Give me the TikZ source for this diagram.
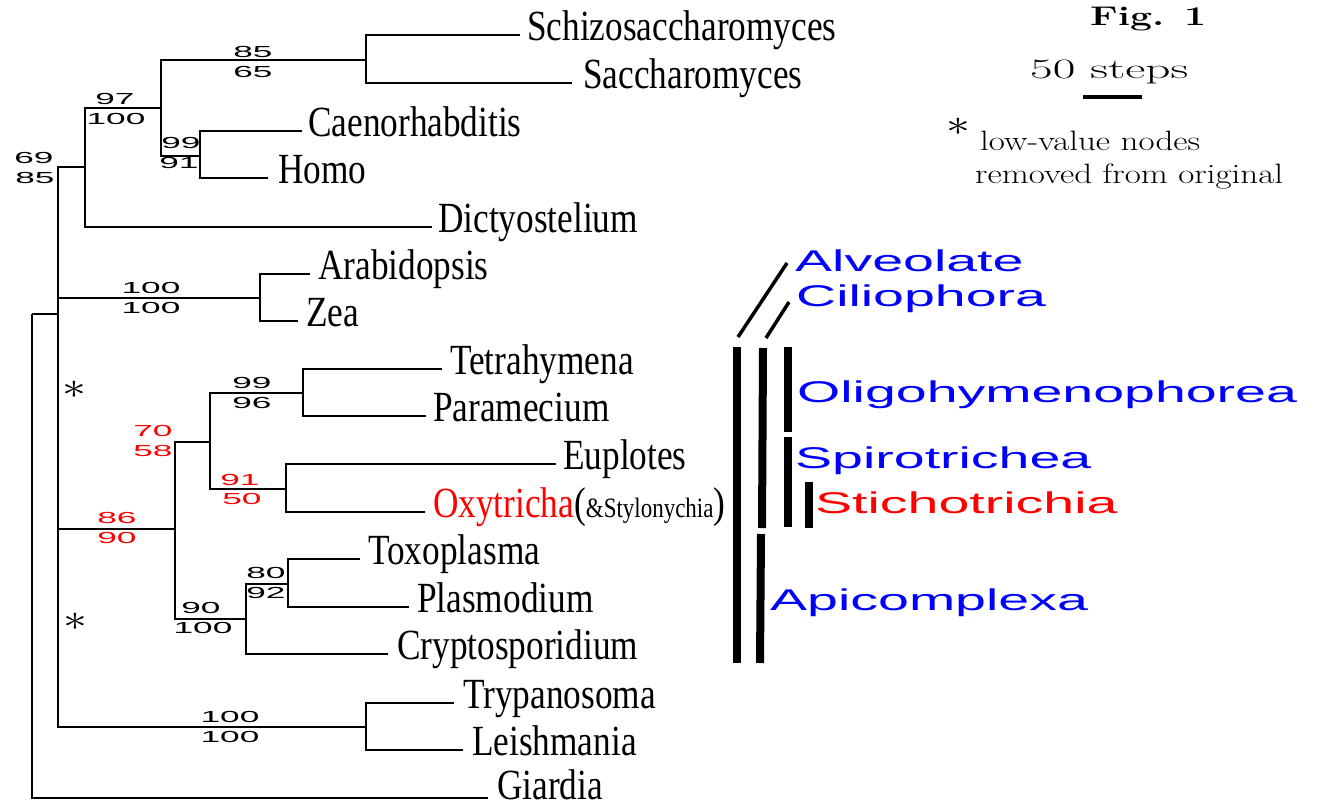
\documentclass[tikz,border=0pt]{standalone}
\usepackage{fontspec}
\usepackage{graphicx}
\newfontfamily\leaffont{Liberation Serif}
\newfontfamily\numfont{Liberation Sans}
\definecolor{cladeblue}{RGB}{0,0,255}
\definecolor{cladered}{RGB}{255,0,0}
\newcommand\lt[1]{\scalebox{0.82}[1]{#1}}
\newcommand\bsv[1]{\scalebox{2.2}[1]{#1}}
\newcommand\cl[1]{\scalebox{1.85}[1]{#1}}
\newcommand\bigast{\scalebox{2.3}[1.8]{$\ast$}}
\begin{document}
\begin{tikzpicture}[x=1pt,y=-1pt,
  branch/.style={line width=1.8pt},
  leaf/.style={anchor=base west, inner sep=0pt, font=\leaffont\fontsize{43}{43}\selectfont},
  boot/.style={inner sep=0pt, font=\numfont\fontsize{16}{16}\selectfont},
  redboot/.style={boot, text=cladered},
  clade/.style={anchor=base west, inner sep=0pt, text=cladeblue, font=\numfont\fontsize{30}{30}\selectfont},
  bar/.style={line width=8pt},
  slant/.style={line width=3.5pt},
  star/.style={inner sep=0pt, font=\fontsize{20}{20}\selectfont},
  note/.style={anchor=base west, inner sep=0pt, font=\fontsize{28}{28}\selectfont}]
\useasboundingbox (0,0) rectangle (1321,806);
% internal nodes
\coordinate (R) at (32,314);
\coordinate (A) at (58,314);
\coordinate (B) at (85,167);
\coordinate (C) at (161,108);
\coordinate (D) at (366,60);
\coordinate (E) at (200,156);
\coordinate (F) at (260,298);
\coordinate (G) at (175,529);
\coordinate (H) at (210,442);
\coordinate (J) at (303,393);
\coordinate (K) at (286,489);
\coordinate (I) at (246,619);
\coordinate (L) at (288,584);
\coordinate (M) at (366,727);
% tips
\coordinate (tSchizo) at (520,35);
\coordinate (tSacch) at (572,83);
\coordinate (tCaen) at (302,131);
\coordinate (tHomo) at (268,178);
\coordinate (tDicty) at (432,227);
\coordinate (tArab) at (310,274);
\coordinate (tZea) at (298,321);
\coordinate (tTetra) at (442,369);
\coordinate (tPara) at (426,416);
\coordinate (tEup) at (556,464);
\coordinate (tOxy) at (425,512);
\coordinate (tToxo) at (360,559);
\coordinate (tPlas) at (409,607);
\coordinate (tCryp) at (388,654);
\coordinate (tTryp) at (454,703);
\coordinate (tLeish) at (463,750);
\coordinate (tGiar) at (488,798);
% leaf labels
\node[leaf] (Schizo) at (527,40) {\lt{Schizosaccharomyces}};
\node[leaf] (Sacch) at (583,88) {\lt{Saccharomyces}};
\node[leaf] (Caen) at (308,136) {\lt{Caenorhabditis}};
\node[leaf] (Homo) at (278,183) {\lt{Homo}};
\node[leaf] (Dicty) at (438,232) {\lt{Dictyostelium}};
\node[leaf] (Arab) at (318,279) {\lt{Arabidopsis}};
\node[leaf] (Zea) at (306,326) {\lt{Zea}};
\node[leaf] (Tetra) at (450,374) {\lt{Tetrahymena}};
\node[leaf] (Para) at (433,421) {\lt{Paramecium}};
\node[leaf] (Eup) at (563,469) {\lt{Euplotes}};
\node[leaf] (Oxy) at (433,517) {\lt{\textcolor{cladered}{Oxytricha}({\fontsize{28}{28}\selectfont\&Stylonychia})}};
\node[leaf] (Toxo) at (368,564) {\lt{Toxoplasma}};
\node[leaf] (Plas) at (417,612) {\lt{Plasmodium}};
\node[leaf] (Cryp) at (397,659) {\lt{Cryptosporidium}};
\node[leaf] (Tryp) at (463,708) {\lt{Trypanosoma}};
\node[leaf] (Leish) at (472,755) {\lt{Leishmania}};
\node[leaf] (Giar) at (497,799) {\lt{Giardia}};
% branches
\draw[branch] (R) -- (A);
\draw[branch] (R) |- (tGiar);
\draw[branch] (A) |- (B);
\draw[branch] (A) |- (F);
\draw[branch] (A) |- (G);
\draw[branch] (A) |- (M);
\draw[branch] (B) |- (C);
\draw[branch] (B) |- (tDicty);
\draw[branch] (C) |- (D);
\draw[branch] (C) |- (E);
\draw[branch] (D) |- (tSchizo);
\draw[branch] (D) |- (tSacch);
\draw[branch] (E) |- (tCaen);
\draw[branch] (E) |- (tHomo);
\draw[branch] (F) |- (tArab);
\draw[branch] (F) |- (tZea);
\draw[branch] (G) |- (H);
\draw[branch] (G) |- (I);
\draw[branch] (H) |- (J);
\draw[branch] (H) |- (K);
\draw[branch] (J) |- (tTetra);
\draw[branch] (J) |- (tPara);
\draw[branch] (K) |- (tEup);
\draw[branch] (K) |- (tOxy);
\draw[branch] (I) |- (L);
\draw[branch] (I) |- (tCryp);
\draw[branch] (L) |- (tToxo);
\draw[branch] (L) |- (tPlas);
\draw[branch] (M) |- (tTryp);
\draw[branch] (M) |- (tLeish);
% bootstrap values
\node[boot] (bB1) at (34,158) {\bsv{69}};
\node[boot] (bB2) at (35,178) {\bsv{85}};
\node[boot] (bC1) at (115,99) {\bsv{97}};
\node[boot] (bC2) at (116,119) {\bsv{100}};
\node[boot] (bD1) at (253,52) {\bsv{85}};
\node[boot] (bD2) at (253,72) {\bsv{65}};
\node[boot] (bE1) at (181,143) {\bsv{99}};
\node[boot] (bE2) at (179,163) {\bsv{91}};
\node[boot] (bF1) at (151,288) {\bsv{100}};
\node[boot] (bF2) at (151,308) {\bsv{100}};
\node[boot] (bJ1) at (252,383) {\bsv{99}};
\node[boot] (bJ2) at (252,403) {\bsv{96}};
\node[redboot] (bH1) at (153,431) {\bsv{70}};
\node[redboot] (bH2) at (153,451) {\bsv{58}};
\node[redboot] (bK1) at (240,480) {\bsv{91}};
\node[redboot] (bK2) at (242,499) {\bsv{50}};
\node[redboot] (bG1) at (117,518) {\bsv{86}};
\node[redboot] (bG2) at (117,538) {\bsv{90}};
\node[boot] (bL1) at (266,573) {\bsv{80}};
\node[boot] (bL2) at (266,593) {\bsv{92}};
\node[boot] (bI1) at (201,608) {\bsv{90}};
\node[boot] (bI2) at (203,628) {\bsv{100}};
\node[boot] (bM1) at (230,717) {\bsv{100}};
\node[boot] (bM2) at (230,737) {\bsv{100}};
% asterisks
\node[star] (s1) at (74,390) {\bigast};
\node[star] (s2) at (75,622) {\bigast};
% clade bars
\draw[bar] (737,347) -- (737,663);
\draw[bar] (763,348) -- (762,528);
\draw[bar] (761,534) -- (760,663);
\draw[bar] (788,347) -- (788,432);
\draw[bar] (788,437) -- (788,527);
\draw[bar] (808.5,482) -- (808.5,528);
\draw[slant] (738,337) -- (787,263);
\draw[slant] (766,338) -- (789,302);
% clade labels
\node[clade] (alv) at (795,271) {\cl{Alveolate}};
\node[clade] (cil) at (796,306) {\cl{Ciliophora}};
\node[clade] (oli) at (797,402) {\cl{Oligohymenophorea}};
\node[clade] (spi) at (795,468) {\cl{Spirotrichea}};
\node[clade, text=cladered] (sti) at (815,513) {\cl{Stichotrichia}};
\node[clade] (api) at (770,610) {\cl{Apicomplexa}};
% legend
\node[anchor=base west, inner sep=0pt, font=\fontsize{27}{27}\selectfont\bfseries] (fig) at (1090,25) {\scalebox{1.45}[1]{Fig. 1}};
\node[anchor=base west, inner sep=0pt, font=\fontsize{28}{28}\selectfont] (steps) at (1030,78) {\scalebox{1.76}[1]{50 steps}};
\coordinate (sbA) at (1083,97);
\coordinate (sbB) at (1142,97);
\draw[line width=4pt] (sbA) -- (sbB);
\node[star] (s3) at (958,127) {\bigast};
\node[note] (low) at (980,150) {\scalebox{1.25}[1]{low-value nodes}};
\node[note] (rem) at (975,183) {\scalebox{1.25}[1]{removed from original}};
\end{tikzpicture}
\end{document}
